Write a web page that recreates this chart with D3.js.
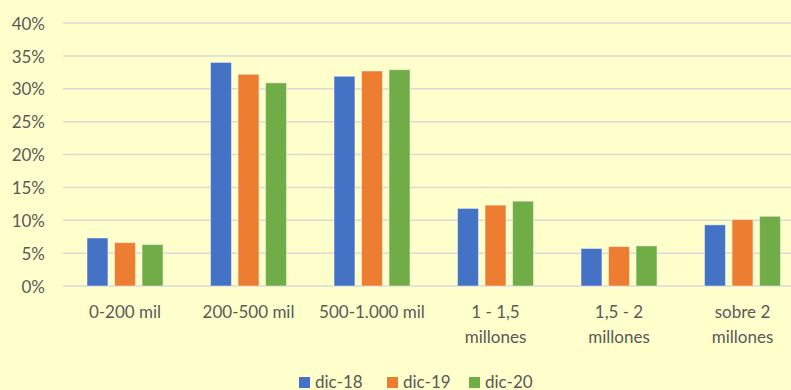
<!DOCTYPE html>
<html>
<head>
<meta charset="utf-8">
<script src="https://cdn.jsdelivr.net/npm/d3@7"></script>
<style>
  html, body { margin: 0; padding: 0; background: #FFFFCC; }
  text { font-family: Lato, "Open Sans", sans-serif; fill: #595959; }
</style>
</head>
<body>
<div id="chart"></div>
<script>
// data
var categories = ["0-200 mil", "200-500 mil", "500-1.000 mil", "1 - 1,5 millones", "1,5 - 2 millones", "sobre 2 millones"];
var seriesNames = ["dic-18", "dic-19", "dic-20"];
var dic18 = [0.073, 0.340, 0.319, 0.118, 0.057, 0.093];
var dic19 = [0.066, 0.322, 0.327, 0.123, 0.060, 0.101];
var dic20 = [0.063, 0.309, 0.329, 0.129, 0.061, 0.106];
var yTicks = [0, 0.05, 0.10, 0.15, 0.20, 0.25, 0.30, 0.35, 0.40];

var colors = {"dic-18": "#4472C4", "dic-19": "#ED7D31", "dic-20": "#70AD47"};
var values = {"dic-18": dic18, "dic-19": dic19, "dic-20": dic20};

var W = 791, H = 390;

var svg = d3.select("#chart").append("svg")
    .attr("width", W)
    .attr("height", H);

svg.append("rect")
    .attr("width", W)
    .attr("height", H)
    .attr("fill", "#FFFFCC");

// scales
var x0 = d3.scaleBand()
    .domain(categories)
    .range([63.25, 804.25])
    .paddingInner(0.385)
    .paddingOuter(0.1925);

var x1 = d3.scaleBand()
    .domain(seriesNames)
    .range([0, x0.bandwidth()])
    .paddingInner(0.24);

var y = d3.scaleLinear()
    .domain([0, 0.40])
    .range([286, 23]);

// gridlines
svg.append("g").selectAll("line")
    .data(yTicks)
    .join("line")
    .attr("x1", 63)
    .attr("x2", W)
    .attr("y1", d => y(d))
    .attr("y2", d => y(d))
    .attr("stroke", "#D9D9D9")
    .attr("stroke-width", 1.5);

// y axis labels
var yAxis = d3.axisLeft(y)
    .tickValues(yTicks)
    .tickFormat(d3.format(".0%"))
    .tickSize(0)
    .tickPadding(0);

var ya = svg.append("g")
    .attr("transform", "translate(45,0)")
    .call(yAxis);
ya.select(".domain").remove();
ya.selectAll("text")
    .attr("font-size", 17)
    .attr("font-family", null)
    .attr("fill", null)
    .attr("dy", "0.36em");

// bars
var groups = svg.append("g").selectAll("g")
    .data(categories)
    .join("g")
    .attr("transform", d => "translate(" + x0(d) + ",0)");

groups.selectAll("rect")
    .data((c, i) => seriesNames.map(s => ({s: s, v: values[s][i]})))
    .join("rect")
    .attr("x", d => x1(d.s))
    .attr("width", x1.bandwidth())
    .attr("y", d => y(d.v))
    .attr("height", d => y(0) - y(d.v))
    .attr("fill", d => colors[d.s])
    .attr("stroke", "#ffffff")
    .attr("stroke-opacity", 0.45)
    .attr("stroke-width", 1);

// category labels (wrapped like the original)
var catLabels = svg.append("g").selectAll("text")
    .data(categories)
    .join("text")
    .attr("x", d => x0(d) + x0.bandwidth() / 2)
    .attr("y", 318)
    .attr("text-anchor", "middle")
    .attr("font-size", 17);

catLabels.each(function(d) {
    var lines = d.replace(" millones", "\nmillones").split("\n");
    var t = d3.select(this);
    lines.forEach(function(line, i) {
        t.append("tspan")
            .attr("x", x0(d) + x0.bandwidth() / 2)
            .attr("dy", i == 0 ? 0 : 24.5)
            .text(line);
    });
});

// legend
var legendX = [299, 387, 469];
var legend = svg.append("g").selectAll("g")
    .data(seriesNames)
    .join("g")
    .attr("transform", (d, i) => "translate(" + legendX[i] + ",377)");

legend.append("rect")
    .attr("width", 11)
    .attr("height", 11)
    .attr("fill", d => colors[d]);

legend.append("text")
    .attr("x", 16)
    .attr("y", 11)
    .attr("font-size", 17)
    .text(d => d);
</script>
</body>
</html>
